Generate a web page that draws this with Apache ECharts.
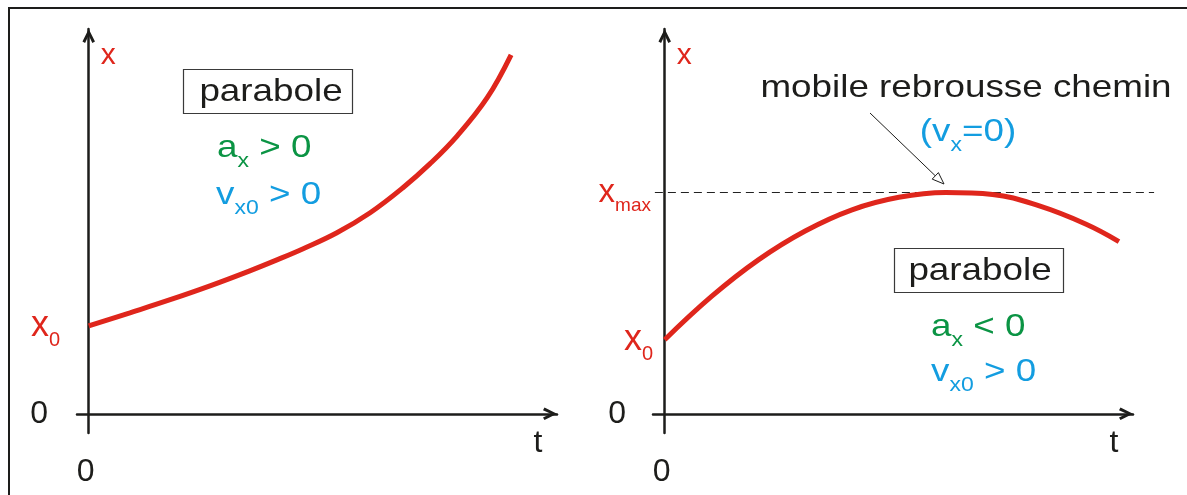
<!DOCTYPE html>
<html>
<head>
<meta charset="utf-8">
<script src="https://cdn.jsdelivr.net/npm/echarts@6.0.0/dist/echarts.min.js"></script>
<style>
  html, body { margin: 0; padding: 0; background: #fff; }
  #chart { width: 1187px; height: 495px; }
</style>
</head>
<body>
<div id="chart"></div>
<script>
// courbe de gauche : a > 0, v0 > 0
const tLeft = [0, 0.88, 1.74, 2.59, 3.44, 4.02, 4.58, 5.30, 6.01, 6.71, 7.29, 7.87, 8.51, 9.02]
const xLeft = [4.57, 5.25, 5.93, 6.65, 7.43, 8.00, 8.58, 9.41, 10.45, 11.75, 13.0, 14.45, 16.43, 18.66]

// courbe de droite : a < 0, v0 > 0 (le mobile rebrousse chemin)
const tRight = [0, 1, 2, 3, 4, 5, 6, 7, 8, 9, 9.7]
const xRight = [3.85, 6.1, 8.0, 9.5, 10.6, 11.25, 11.5, 11.4, 10.8, 9.85, 8.95]

const xMax = 11.5
const dashT = [-0.21, 10.45]

const FONT = 'Liberation Sans, Arial, Helvetica, sans-serif'
const BLACK = '#1d1d1b'
const RED = '#df261c'
const GREEN = '#0b9444'
const BLUE = '#139de0'
// flèche ouverte en bout d'axe
const CHEVRON = 'path://M0,10 L5,0 L10,10 L7.9,11.2 L5,5 L2.1,11.2 Z'

function zip(a, b) {
  return a.map((v, i) => [v, b[i]])
}

function axisLine() {
  return {
    onZero: true,
    symbol: ['none', CHEVRON],
    symbolSize: [16, 14],
    symbolOffset: [0, -7],
    lineStyle: { color: BLACK, width: 2.5 }
  }
}

function makeXAxis(i) {
  return {
    type: 'value',
    gridIndex: i,
    min: -0.25,
    max: 10,
    splitLine: { show: false },
    axisTick: { show: false },
    axisLine: axisLine(),
    name: 't',
    nameLocation: 'end',
    nameGap: -19,
    nameTextStyle: {
      color: BLACK, fontSize: 32, lineHeight: 32, fontFamily: FONT,
      align: 'center', verticalAlign: 'top', padding: [13, 0, 0, 0]
    },
    axisLabel: {
      customValues: [0],
      margin: 12,
      formatter: () => '{z|0}',
      rich: {
        z: { fontSize: 32, lineHeight: 32, fontFamily: FONT, color: BLACK, padding: [23, 6, 0, 0] }
      }
    }
  }
}

function makeYAxis(i, values, margin, zeroPad) {
  return {
    type: 'value',
    gridIndex: i,
    min: -1,
    max: 20,
    splitLine: { show: false },
    axisTick: { show: false },
    axisLine: axisLine(),
    name: 'x',
    nameLocation: 'end',
    nameGap: -12,
    nameTextStyle: {
      color: RED, fontSize: 30, fontFamily: FONT,
      align: 'left', verticalAlign: 'top', padding: [0, 0, 0, 12]
    },
    axisLabel: {
      customValues: values,
      margin: margin,
      formatter: (v) => {
        if (v === 0) return '{z|0}'
        if (v === xMax) return '{n|x}{u|max}'
        return '{m|x}{s|0}'
      },
      rich: {
        z: { fontSize: 32, lineHeight: 32, fontFamily: FONT, color: BLACK, padding: [0, zeroPad, 0, 0] },
        m: { fontSize: 36, fontFamily: FONT, color: RED, lineHeight: 50, verticalAlign: 'middle' },
        s: { fontSize: 20, fontFamily: FONT, color: RED, lineHeight: 50, verticalAlign: 'bottom' },
        n: { fontSize: 33, fontFamily: FONT, color: RED, lineHeight: 46, verticalAlign: 'middle' },
        u: { fontSize: 19, fontFamily: FONT, color: RED, lineHeight: 46, verticalAlign: 'bottom', padding: [0, 2, 0, 0] }
      }
    }
  }
}

// texte avec indices (rich), légèrement étiré comme l'original
function text(x, y, str, color, align) {
  const tok = (size, va, lh) => ({ fontSize: size, fontFamily: FONT, lineHeight: lh, verticalAlign: va })
  return {
    type: 'text',
    x: x,
    y: y,
    scaleX: 1.15,
    style: {
      text: str,
      fill: color,
      fontSize: 32,
      fontFamily: FONT,
      align: align,
      textAlign: align,
      verticalAlign: 'middle',
      textVerticalAlign: 'middle',
      rich: {
        m: tok(32, 'middle', 46),
        s: tok(20, 'bottom', 46)
      }
    }
  }
}

function box(x, y, w, h) {
  return {
    type: 'rect',
    shape: { x: x, y: y, width: w, height: h },
    style: { fill: 'rgba(0,0,0,0)', stroke: '#3a3a3a', lineWidth: 1.2 }
  }
}

const option = {
  animation: false,
  backgroundColor: '#fff',
  textStyle: { fontFamily: FONT },
  grid: [
    { left: 77, top: 29, width: 480, height: 404, outerBoundsMode: 'none', containLabel: false },
    { left: 653, top: 29, width: 480, height: 404, outerBoundsMode: 'none', containLabel: false }
  ],
  xAxis: [makeXAxis(0), makeXAxis(1)],
  yAxis: [
    makeYAxis(0, [0, xLeft[0]], 17, 12),
    makeYAxis(1, [0, xRight[0], xMax], 0, 27)
  ],
  series: [
    {
      name: 'x(t) a>0',
      type: 'line',
      xAxisIndex: 0,
      yAxisIndex: 0,
      data: zip(tLeft, xLeft),
      smooth: 0.4,
      symbol: 'none',
      z: 3,
      lineStyle: { color: RED, width: 5 }
    },
    {
      name: 'x(t) a<0',
      type: 'line',
      xAxisIndex: 1,
      yAxisIndex: 1,
      data: zip(tRight, xRight),
      smooth: 0.4,
      symbol: 'none',
      z: 3,
      lineStyle: { color: RED, width: 5 }
    }
  ],
  graphic: [
    {
      type: 'polyline',
      shape: { points: [[9, 495], [9, 8], [1187, 8]] },
      style: { stroke: BLACK, lineWidth: 2, fill: null }
    },
    box(183.5, 69.5, 169, 44),
    text(271, 92, 'parabole', BLACK, 'center'),
    text(217, 148, '{m|a}{s|x}{m| > 0}', GREEN, 'left'),
    text(216, 195, '{m|v}{s|x0}{m| > 0}', BLUE, 'left'),

    text(966, 88, 'mobile rebrousse chemin', BLACK, 'center'),
    text(968, 132, '{m|(v}{s|x}{m|=0)}', BLUE, 'center'),
    {
      type: 'line',
      shape: { x1: 870, y1: 113, x2: 935.3, y2: 175.8 },
      style: { stroke: BLACK, lineWidth: 1 }
    },
    {
      type: 'polygon',
      shape: { points: [[944, 184], [932.2, 179.1], [938.4, 172.6]] },
      style: { fill: '#fff', stroke: BLACK, lineWidth: 1 }
    },
    box(894.5, 248.5, 169, 44),
    text(980, 271, 'parabole', BLACK, 'center'),
    text(931, 327, '{m|a}{s|x}{m| < 0}', GREEN, 'left'),
    text(931, 372, '{m|v}{s|x0}{m| > 0}', BLUE, 'left')
  ]
}

const chart = echarts.init(document.getElementById('chart'))
chart.setOption(option)

// ligne pointillée x = xmax, qui dépasse la flèche de l'axe t
const p0 = chart.convertToPixel({ gridIndex: 1 }, [dashT[0], xMax])
const p1 = chart.convertToPixel({ gridIndex: 1 }, [dashT[1], xMax])
chart.setOption({
  graphic: option.graphic.concat([{
    type: 'line',
    z: -1,
    shape: { x1: p0[0], y1: p0[1], x2: p1[0], y2: p1[1] },
    style: { stroke: '#222', lineWidth: 1.2, lineDash: [8, 5] }
  }])
})
</script>
</body>
</html>
